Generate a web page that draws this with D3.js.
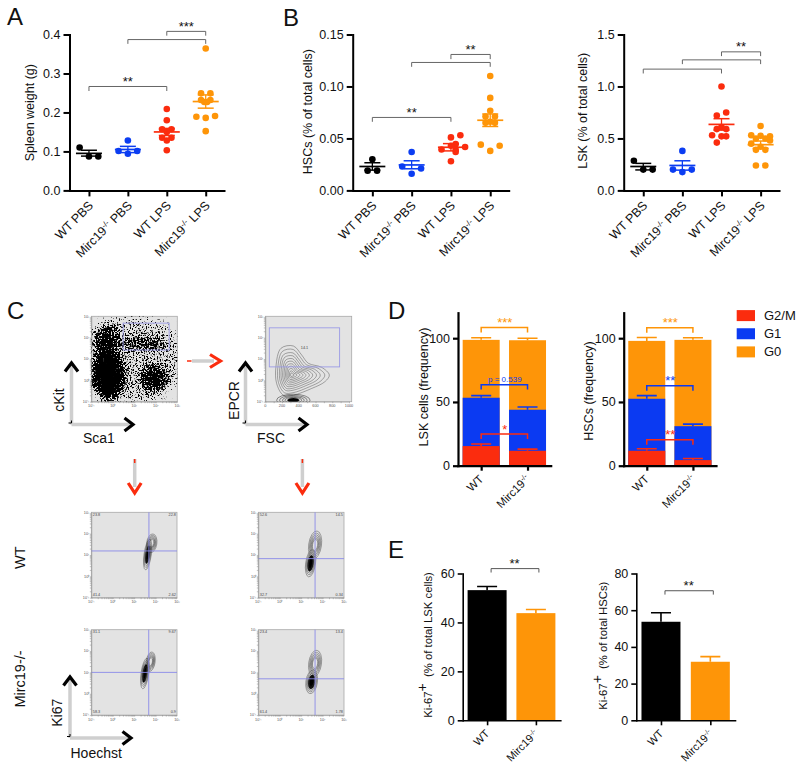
<!DOCTYPE html>
<html><head><meta charset="utf-8">
<script src="https://cdnjs.cloudflare.com/ajax/libs/d3/7.8.5/d3.min.js"></script>
<style>html,body{margin:0;padding:0;background:#fff}svg{display:block}text{font-family:"Liberation Sans",Arial,sans-serif;fill:#111}</style>
</head><body><svg id="c" width="800" height="771"></svg>
<script>
// ---------- data ----------
const groups = [["WT PBS",""],["Mirc19","PBS"],["WT LPS",""],["Mirc19","LPS"]];
const groupColors = ["#000000","#0b3df2","#fb2c0e","#fe9508"];
const stackColors = {g2m:"#fb2c0e", g1:"#0b3af2", g0:"#fe9508"};
const spleenValues = [[.11,.087,.087],[.128,.101,.094,.101],[.209,.18,.157,.157,.15,.135,.135,.128,.103],[.364,.249,.249,.232,.232,.227,.227,.189,.186,.191,.152]];
const spleenSlots  = [[-1,0,1],[0,-1,0,1],[0,0,-.5,.5,0,-.5,.5,0,0],[0,-.5,.5,-.5,.5,-.15,.15,-1,0,1,0]];
const spleenMean = [.095,.105,.15,.228], spleenHi = [.103,.113,.159,.245], spleenLo = [.088,.097,.141,.211];
const hscValues = [[.03,.019,.019],[.037,.023,.021,.016],[.053,.051,.0445,.043,.0417,.0394,.039,.037,.028],[.11,.089,.0766,.071,.071,.066,.065,.065,.044,.038,.043]];
const hscSlots  = [[0,-.5,.5],[0,-1,1,0],[1,0,.5,0,1.5,-1,.5,.5,0],[0,0,0,-.5,.5,0,-.5,.5,-1,0,1]];
const hscMean = [.023,.0245,.0415,.0675], hscHi = [.0266,.0285,.045,.0735], hscLo = [.0195,.0208,.038,.0615];
const lskValues = [[.285,.2,.2],[.38,.2,.2,.176],[1,.75,.72,.61,.59,.59,.53,.52,.52,.46],[.62,.53,.525,.52,.5,.5,.48,.45,.42,.39,.39,.24,.24]];
const lskSlots  = [[-1,0,1],[0,-1,1,0],[0,.5,-.5,0,-.5,.5,-1,0,.5,-.5],[0,-1,0,1,-.5,.5,1,-1,0,-.5,.5,-.5,.5]];
const lskMean = [.23,.24,.635,.44], lskHi = [.26,.285,.69,.475], lskLo = [.197,.195,.58,.405];
const spleenBrackets = [[0,2,.2666,.255,"**"],[1,3,.387,.376,""],[2,3,.408,.397,"***"]];
const hscBrackets = [[0,2,.0702,.066,"**"],[1,3,.1231,.1189,""],[2,3,.1308,.1263,"**"]];
const lskBrackets = [[0,2,1.167,1.125,""],[1,3,1.256,1.215,""],[2,3,1.333,1.292,"**"]];
const stackGenotypes = [["WT",""],["Mirc19",""]];
const lskG2M=[15.4,11.7], lskG1=[53.3,43.9], lskG0=[98.7,98.4];
const lskG2MErr=[17,13], lskG1Err=[55,46], lskG0Err=[100.3,100];
const hsG2M=[11.7,4.4], hsG1=[52.5,31], hsG0=[97.9,98.7];
const hsG2MErr=[13.3,5.7], hsG1Err=[55,32.6], hsG0Err=[100.5,100.3];
const lskStackBrackets=[[108.4,104.4,"***","#fe9508"],[63.4,59.8,"p = 0.539","#0b3af2"],[24.8,20.9,"*","#fb2c0e"]];
const hsStackBrackets=[[108.1,104.2,"***","#fe9508"],[62.7,58.7,"**","#0b3af2"],[20.4,16.4,"**","#fb2c0e"]];
const legendLabels=["G2/M","G1","G0"];
const ki67Lsk=[53.2,43.8], ki67LskErr=[54.7,45.3];
const ki67Hsc=[53.7,31.9], ki67HscErr=[58.6,34.7];
const barColors=["#000000","#fe9508"];
// flow: [log x, log y, rx, ry, density]
const sca1Clusters=[[.95,.95,2.4,2.1,.24],[1,1,2.2,1.9,.12],[-.25,1.2,.55,.7,.45],[-.29,1.97,.6,.7,.62],[1.42,1.73,1.05,.24,.72],[1.91,.09,.6,.6,.85],[-.21,.25,.75,1.2,.98],[-.2,.2,.5,.8,.95]];
const sca1Gate=[[.48,2.68],[2.62,1.42]], epcrGate=[[48,2.46],[888,.63]];
const epcrOutline=[[187,1.5],[335,1.61],[434,1.19],[514,.8],[673,.61],[765,.25],[713,-.06],[554,-.38],[335,-.69],[215,-.69],[135,-.14],[127,.64]];
const epcrCentre=[315,.25];
const contourLevels=[1,.88,.76,.66,.56,.47,.38,.3,.22,.14,.07];
const ki67Plots=[
 {vx:1.69,hy:1.19,q:["23.8","22.8","41.4","2.62"],lobes:[[1.82,1.55,.24,.44],[1.63,1.02,.17,.72]]},
 {vx:1.65,hy:.83,q:["52.6","14.5","32.7","0.34"],lobes:[[1.65,1.47,.3,.66],[1.44,.61,.23,.64]]},
 {vx:1.68,hy:1.0,q:["31.1","9.67","58.3","0.9"],lobes:[[1.77,1.5,.21,.46],[1.5,.95,.18,.72]]},
 {vx:1.65,hy:.7,q:["23.4","13.4","61.4","1.78"],lobes:[[1.65,1.42,.3,.62],[1.49,.56,.27,.56]]}];
const ringLevels=[1,.85,.72,.6,.5,.4];
const logTicks=[-1,0,1,2,3];
const supDigits={"-1":"⁻¹",0:"⁰",1:"¹",2:"²",3:"³"};

// ---------- helpers ----------
const svg=d3.select("#c");
const defs=svg.append("defs");
const F="Liberation Sans";
function txt(p,x,y,s,size,o={}){const t=p.append("text").attr("x",x).attr("y",y).attr("font-size",size).text(s);
 if(o.anchor)t.attr("text-anchor",o.anchor); if(o.fill)t.style("fill",o.fill); if(o.weight)t.attr("font-weight",o.weight); return t;}
function vtxt(p,x,y,size){return p.append("text").attr("transform",`translate(${x},${y}) rotate(-90)`).attr("text-anchor","middle").attr("font-size",size);}
function supLabel(t,base,rest,size){t.append("tspan").text(base);
 t.append("tspan").attr("dy",-size*.35).attr("font-size",size*.62).text("-/-");
 t.append("tspan").attr("dy",size*.35).text(rest?" "+rest:"");}
function xLabels(g,x,y0,labels,size,dx,dy){labels.forEach((l,i)=>{
 const t=g.append("text").attr("text-anchor","end").attr("font-size",size)
  .attr("transform",`translate(${x(i)+dx},${y0+dy}) rotate(-45)`);
 if(l[0]==="Mirc19")supLabel(t,l[0],l[1],size); else t.text(l[0]);});}
function axes(g,x,y,n,ticks,fmt,size,tl,sw){
 const h=y.range()[0];
 const ax=g.append("g").attr("transform",`translate(${x.range()[0]},0)`).call(d3.axisLeft(y).tickValues(ticks).tickFormat(fmt).tickSize(tl).tickSizeOuter(0));
 const bx=g.append("g").attr("transform",`translate(0,${h})`).call(d3.axisBottom(x).tickValues(d3.range(n)).tickFormat("").tickSize(tl).tickSizeOuter(0));
 [ax,bx].forEach(a=>{a.selectAll("path,line").attr("stroke","#000").attr("stroke-width",sw);a.selectAll("text").attr("font-size",size).attr("font-family",F);});
 ax.selectAll("path").attr("stroke-linecap","square");bx.selectAll("path").attr("stroke-linecap","square");
}
function scatter(o){
 const g=svg.append("g");
 const x=d3.scaleLinear().domain([-.5,3.47]).range([o.x0,o.x1]);
 const y=d3.scaleLinear().domain(o.dom).range([190.4,34.5]);
 const slotW=.24;
 o.values.forEach((vs,i)=>{
  g.append("g").selectAll("circle").data(vs).join("circle").attr("r",3.3).attr("fill",groupColors[i])
   .attr("cx",(d,k)=>x(i+o.slots[i][k]*slotW)).attr("cy",d=>y(d));
  const c=groupColors[i], cx=x(i);
  const ln=(a,b,cc,dd,sw)=>g.append("line").attr("x1",a).attr("x2",b).attr("y1",cc).attr("y2",dd).attr("stroke",c).attr("stroke-width",sw);
  ln(cx-13,cx+13,y(o.mean[i]),y(o.mean[i]),1.7);
  ln(cx,cx,y(o.hi[i]),y(o.lo[i]),1.3);
  ln(cx-8,cx+8,y(o.hi[i]),y(o.hi[i]),1.5);
  ln(cx-8,cx+8,y(o.lo[i]),y(o.lo[i]),1.5);
 });
 axes(g,x,y,4,o.ticks,d3.format(o.fmt),12.5,6,2);
 o.brackets.forEach(b=>{
  g.append("path").attr("fill","none").attr("stroke","#666").attr("stroke-width",1)
   .attr("d",d3.line()([[x(b[0]),y(b[3])],[x(b[0]),y(b[2])],[x(b[1]),y(b[2])],[x(b[1]),y(b[3])]]));
  if(b[4])txt(g,(x(b[0])+x(b[1]))/2,y(b[2])-.5,b[4],13,{anchor:"middle"});
 });
 xLabels(g,x,190.4,groups,12.5,5,16);
 vtxt(g,o.lx,o.ly,12.5).text(o.label);
}
function stack(o){
 const g=svg.append("g");
 const x=d3.scaleLinear().domain([-.5,1.5]).range([o.x0,o.x1]);
 const y=d3.scaleLinear().domain([0,120]).range([465.7,312.7]);
 const hw=18.5;
 [[o.g0,o.g0e,"g0"],[o.g1,o.g1e,"g1"],[o.g2,o.g2e,"g2m"]].forEach(s=>{
  const c=stackColors[s[2]];
  g.append("g").selectAll("rect").data(s[0]).join("rect").attr("x",(d,i)=>x(i)-hw).attr("width",hw*2)
   .attr("y",d=>y(d)).attr("height",d=>y(0)-y(d)).attr("fill",c);
  s[1].forEach((e,i)=>{
   g.append("path").attr("fill","none").attr("stroke",c).attr("stroke-width",1.6)
    .attr("d",d3.line()([[x(i),y(s[0][i])],[x(i),y(e)]])+d3.line()([[x(i)-10,y(e)],[x(i)+10,y(e)]]));
  });
 });
 axes(g,x,y,2,[0,50,100],d3.format("d"),12.5,5,2.2);
 o.brackets.forEach(b=>{
  g.append("path").attr("fill","none").attr("stroke",b[3]).attr("stroke-width",1.5)
   .attr("d",d3.line()([[x(0),y(b[1])],[x(0),y(b[0])],[x(1),y(b[0])],[x(1),y(b[1])]]));
  txt(g,(x(0)+x(1))/2+.5,y(b[0])-(b[2][0]==="p"?3:.5),b[2],b[2][0]==="p"?8:13,{anchor:"middle",fill:b[3]});
 });
 xLabels(g,x,465.7,stackGenotypes,11.5,3,14);
 vtxt(g,o.lx,o.ly,12.5).text(o.label);
}
function bars(o){
 const g=svg.append("g");
 const x=d3.scaleLinear().domain([-.5,1.5]).range([o.x0,o.x1]);
 const y=d3.scaleLinear().domain(o.dom).range([720.3,573.5]);
 const hw=19.5;
 g.append("g").selectAll("rect").data(o.v).join("rect").attr("x",(d,i)=>x(i)-hw).attr("width",hw*2)
  .attr("y",d=>y(d)).attr("height",d=>y(0)-y(d)).attr("fill",(d,i)=>barColors[i]);
 o.e.forEach((e,i)=>g.append("path").attr("fill","none").attr("stroke",barColors[i]).attr("stroke-width",1.6)
   .attr("d",d3.line()([[x(i),y(o.v[i])],[x(i),y(e)]])+d3.line()([[x(i)-10,y(e)],[x(i)+10,y(e)]])));
 axes(g,x,y,2,o.ticks,d3.format("d"),12.5,5,1.6);
 g.append("path").attr("fill","none").attr("stroke","#444").attr("stroke-width",.9)
  .attr("d",d3.line()([[x(0)+4,y(o.br[1])],[x(0)+4,y(o.br[0])],[x(1)+3,y(o.br[0])],[x(1)+3,y(o.br[1])]]));
 txt(g,(x(0)+x(1))/2+3,y(o.br[0])-.5,"**",13,{anchor:"middle"});
 xLabels(g,x,720.3,stackGenotypes,11,3,14);
 const t=vtxt(g,o.lx,o.ly,11.3);
 t.append("tspan").text("Ki-67");
 t.append("tspan").attr("dy",-5).attr("font-size",14).text("+");
 t.append("tspan").attr("dy",5).attr("xml:space","preserve").text("  (% of total "+o.cell+")");
}
function flowAxes(g,xs,ys,isLinear){
 const b=ys.range()[0], l=xs.range()[0];
 const xa=g.append("g").attr("transform",`translate(0,${b})`);
 const ya=g.append("g").attr("transform",`translate(${l},0)`);
 const minor=(s)=>{const [a,c]=s.domain();const out=[];d3.range(a,c).forEach(e=>d3.range(1,10).forEach(k=>out.push(e+Math.log10(k))));return out;};
 const xT=isLinear?d3.range(0,1001,100):minor(xs);
 xa.call(d3.axisBottom(xs).tickValues(xT).tickFormat("").tickSize(1.5).tickSizeOuter(0));
 ya.call(d3.axisLeft(ys).tickValues(minor(ys)).tickFormat("").tickSize(1.5).tickSizeOuter(0));
 [xa,ya].forEach(a=>{a.selectAll("path,line").attr("stroke","#888").attr("stroke-width",.5);});
 (isLinear?[0,200,400,600,800,1000]:logTicks).forEach(v=>{
  txt(g,xs(v),b+5.5,isLinear?String(v):"10"+supDigits[v],3.8,{anchor:"middle",fill:"#555"});});
 logTicks.forEach(v=>txt(g,l-2,ys(v)+1.3,"10"+supDigits[v],3.8,{anchor:"end",fill:"#555"}));
}
function clipFor(id,x,y,w,h){defs.append("clipPath").attr("id",id).append("rect").attr("x",x).attr("y",y).attr("width",w).attr("height",h);}
function axisArrow(g,x,yTop,yBot,xRight,yH){
 g.append("line").attr("x1",x).attr("x2",x).attr("y1",yBot).attr("y2",yTop+4).attr("stroke","#cfcfcf").attr("stroke-width",3.5);
 g.append("line").attr("x1",x).attr("x2",xRight-4).attr("y1",yH).attr("y2",yH).attr("stroke","#cfcfcf").attr("stroke-width",3.5);
 g.append("path").attr("fill","none").attr("stroke","#000").attr("stroke-width",3.2)
  .attr("d",`M${x-6.5},${yTop+11}L${x},${yTop+2.5}L${x+6.5},${yTop+11}`);
 g.append("path").attr("fill","none").attr("stroke","#000").attr("stroke-width",3.2)
  .attr("d",`M${xRight-11},${yH-6.5}L${xRight-2.5},${yH}L${xRight-11},${yH+6.5}`);
 g.append("path").attr("fill","none").attr("stroke","#000").attr("stroke-width",1)
  .attr("d",`M${x-3},${yH-1.5}L${x},${yH-1.5}L${x},${yH-4}`);
}
function redArrowDown(g,x,y0,y1){
 g.append("line").attr("x1",x).attr("x2",x).attr("y1",y0).attr("y2",y1-8).attr("stroke","#cfcfcf").attr("stroke-width",3.5);
 g.append("line").attr("x1",x).attr("x2",x).attr("y1",y0).attr("y2",y0+4).attr("stroke","#fb2c0e").attr("stroke-width",1.5);
 g.append("path").attr("fill","none").attr("stroke","#fb2c0e").attr("stroke-width",3.2)
  .attr("d",`M${x-6.5},${y1-12}L${x},${y1-2}L${x+6.5},${y1-12}`);
}

// ---------- A / B ----------
scatter({x0:69.5,x1:224,dom:[0,.4],ticks:[0,.1,.2,.3,.4],fmt:".1f",values:spleenValues,slots:spleenSlots,mean:spleenMean,hi:spleenHi,lo:spleenLo,brackets:spleenBrackets,label:"Spleen weight (g)",lx:34,ly:112.7});
scatter({x0:352.7,x1:508.7,dom:[0,.15],ticks:[0,.05,.1,.15],fmt:".2f",values:hscValues,slots:hscSlots,mean:hscMean,hi:hscHi,lo:hscLo,brackets:hscBrackets,label:"HSCs (% of total cells)",lx:311.7,ly:111.7});
scatter({x0:623.7,x1:779,dom:[0,1.5],ticks:[0,.5,1,1.5],fmt:".1f",values:lskValues,slots:lskSlots,mean:lskMean,hi:lskHi,lo:lskLo,brackets:lskBrackets,label:"LSK (% of total cells)",lx:587.3,ly:110.8});

// ---------- D ----------
stack({x0:458,x1:550.7,g2:lskG2M,g1:lskG1,g0:lskG0,g2e:lskG2MErr,g1e:lskG1Err,g0e:lskG0Err,brackets:lskStackBrackets,label:"LSK cells (frequency)",lx:427.7,ly:387});
stack({x0:623.7,x1:716,g2:hsG2M,g1:hsG1,g0:hsG0,g2e:hsG2MErr,g1e:hsG1Err,g0e:hsG0Err,brackets:hsStackBrackets,label:"HSCs (frequency)",lx:592.7,ly:391});
const lg=svg.append("g");
const lgY=d3.scalePoint().domain(legendLabels).range([315.6,351.9]);
const lgC=d3.scaleOrdinal().domain(legendLabels).range([stackColors.g2m,stackColors.g1,stackColors.g0]);
legendLabels.forEach(l=>{
 lg.append("rect").attr("x",736.7).attr("y",lgY(l)-5.5).attr("width",18.3).attr("height",11).attr("fill",lgC(l));
 txt(lg,764,lgY(l)+4.5,l,13);
});

// ---------- E ----------
bars({x0:462.7,x1:560.3,dom:[0,60],ticks:[0,20,40,60],v:ki67Lsk,e:ki67LskErr,br:[62,60.4],cell:"LSK cells",lx:431.7,ly:645});
bars({x0:636.3,x1:735,dom:[0,80],ticks:[0,20,40,60,80],v:ki67Hsc,e:ki67HscErr,br:[70.6,68.5],cell:"HSCs",lx:607,ly:645.7});

// ---------- C ----------
const cg=svg.append("g");
// speckle filter: density map thresholded against a noise texture
const fl=defs.append("filter").attr("id","speckle").attr("filterUnits","userSpaceOnUse")
 .attr("x",85).attr("y",310).attr("width",100).attr("height",100).attr("color-interpolation-filters","sRGB");
fl.append("feGaussianBlur").attr("in","SourceAlpha").attr("stdDeviation",4).attr("result","d");
fl.append("feTurbulence").attr("type","fractalNoise").attr("baseFrequency",.63).attr("numOctaves",3).attr("seed",4).attr("result","t");
fl.append("feColorMatrix").attr("in","t").attr("type","matrix").attr("values","0 0 0 0 0 0 0 0 0 0 0 0 0 0 0 2.2 0 0 0 -.6").attr("result","n");
fl.append("feComposite").attr("in","d").attr("in2","n").attr("operator","arithmetic").attr("k1",0).attr("k2",1.2).attr("k3",1).attr("k4",-1).attr("result","m");
const ct=fl.append("feComponentTransfer").attr("in","m");ct.append("feFuncA").attr("type","linear").attr("slope",5).attr("intercept",0);

// plot 1
{const xs=d3.scaleLinear().domain([-1,3]).range([91.3,177.3]), ys=d3.scaleLinear().domain([-1,3]).range([401.7,316.3]);
 cg.append("rect").attr("x",91.3).attr("y",316.3).attr("width",86).attr("height",85.4).attr("fill","#e3e3e3").attr("stroke","#a8a8a8").attr("stroke-width",.8);
 clipFor("cp1",91.3,316.3,86,85.4);
 const cl=cg.append("g").attr("clip-path","url(#cp1)").append("g").attr("filter","url(#speckle)");
 cl.selectAll("ellipse").data(sca1Clusters).join("ellipse")
  .attr("cx",d=>xs(d[0])).attr("cy",d=>ys(d[1])).attr("rx",d=>xs(d[2])-xs(0)).attr("ry",d=>ys(0)-ys(d[3])).attr("fill","#000").attr("fill-opacity",d=>d[4]);
 flowAxes(cg,xs,ys,false);
 cg.append("rect").attr("x",xs(sca1Gate[0][0])).attr("y",ys(sca1Gate[0][1])).attr("width",xs(sca1Gate[1][0])-xs(sca1Gate[0][0])).attr("height",ys(sca1Gate[1][1])-ys(sca1Gate[0][1])).attr("fill","none").attr("stroke","#9a9ae6").attr("stroke-width",.9);
}
// plot 2
{const xs=d3.scaleLinear().domain([0,1000]).range([265.3,349]), ys=d3.scaleLinear().domain([-1,3]).range([401.7,316.3]);
 cg.append("rect").attr("x",265.3).attr("y",316.3).attr("width",86.4).attr("height",85.4).attr("fill","#e3e3e3").attr("stroke","#a8a8a8").attr("stroke-width",.8);
 clipFor("cp2",265.3,316.3,86.4,85.4);
 const p=cg.append("g").attr("clip-path","url(#cp2)");
 const ln=d3.line().curve(d3.curveCatmullRomClosed.alpha(.5));
 p.selectAll("path.r").data(contourLevels).join("path").attr("fill","none").attr("stroke","#333").attr("stroke-width",.4)
  .attr("d",l=>ln(epcrOutline.map(q=>[xs(epcrCentre[0]+(q[0]-epcrCentre[0])*l),ys(epcrCentre[1]+(q[1]-epcrCentre[1])*l)])));
 [[200,.28],[165,.22],[130,.17],[100,.13],[70,.1]].forEach((r,i)=>
  p.append("ellipse").attr("cx",xs(335)).attr("cy",ys(-.93)).attr("rx",xs(r[0])-xs(0)).attr("ry",ys(0)-ys(r[1])).attr("fill",i==4?"#000":"none").attr("stroke","#222").attr("stroke-width",.5));
 flowAxes(cg,xs,ys,true);
 cg.append("rect").attr("x",xs(epcrGate[0][0])).attr("y",ys(epcrGate[0][1])).attr("width",xs(epcrGate[1][0])-xs(epcrGate[0][0])).attr("height",ys(epcrGate[1][1])-ys(epcrGate[0][1])).attr("fill","none").attr("stroke","#9a9ae6").attr("stroke-width",.9);
 txt(cg,304.5,349,"14.1",3.8,{anchor:"middle",fill:"#444"});
}
// Ki67 plots
[[91.3,512.3],[258.3,512.3],[91.3,629.7],[258.3,629.7]].forEach((pos,i)=>{
 const d=ki67Plots[i], w=85.7, h=85.4;
 const xs=d3.scaleLinear().domain([-1,3]).range([pos[0],pos[0]+w]), ys=d3.scaleLinear().domain([-1,3]).range([pos[1]+h,pos[1]]);
 cg.append("rect").attr("x",pos[0]).attr("y",pos[1]).attr("width",w).attr("height",h).attr("fill","#e3e3e3").attr("stroke","#a8a8a8").attr("stroke-width",.8);
 d.lobes.forEach((lb,k)=>{
  const rx=xs(lb[2])-xs(0), ry=ys(0)-ys(lb[3]);
  const e=cg.append("g").attr("transform",`translate(${xs(lb[0])},${ys(lb[1])}) rotate(8)`);
  e.selectAll("ellipse").data(ringLevels).join("ellipse").attr("rx",l=>rx*l).attr("ry",l=>ry*l)
   .attr("fill",(l,j)=>(k==1&&j==3)?"#000":"none").attr("stroke","#333").attr("stroke-width",.4);
 });
 cg.append("line").attr("x1",xs(d.vx)).attr("x2",xs(d.vx)).attr("y1",ys(3)).attr("y2",ys(-1)).attr("stroke","#8a8ae8").attr("stroke-width",.9);
 cg.append("line").attr("x1",xs(-1)).attr("x2",xs(3)).attr("y1",ys(d.hy)).attr("y2",ys(d.hy)).attr("stroke","#8a8ae8").attr("stroke-width",.9);
 flowAxes(cg,xs,ys,false);
 txt(cg,xs(-.93),ys(2.85),d.q[0],3.8,{fill:"#444"});
 txt(cg,xs(2.95),ys(2.85),d.q[1],3.8,{anchor:"end",fill:"#444"});
 txt(cg,xs(-.93),ys(-.9),d.q[2],3.8,{fill:"#444"});
 txt(cg,xs(2.95),ys(-.9),d.q[3],3.8,{anchor:"end",fill:"#444"});
});
axisArrow(cg,71.5,360.5,424.5,135.5,424.5);
axisArrow(cg,245.5,360.5,424.5,309.5,424.5);
axisArrow(cg,70,674.5,738,133.5,738);
vtxt(cg,63.5,400,14).text("cKit");
txt(cg,83,443.3,"Sca1",14);
vtxt(cg,238.5,400.5,14).text("EPCR");
txt(cg,257,443.3,"FSC",14);
vtxt(cg,62.3,712.7,14).text("Ki67");
txt(cg,70.5,758,"Hoechst",14);
vtxt(cg,24.7,557.7,14.5).text("WT");
vtxt(cg,24.7,679,14.5).text("Mirc19-/-");
// red arrows
cg.append("line").attr("x1",192).attr("x2",214).attr("y1",361).attr("y2",361).attr("stroke","#cfcfcf").attr("stroke-width",3.5);
cg.append("line").attr("x1",187).attr("x2",191.5).attr("y1",361).attr("y2",361).attr("stroke","#fb2c0e").attr("stroke-width",1.5);
cg.append("path").attr("fill","none").attr("stroke","#fb2c0e").attr("stroke-width",3.2).attr("d","M210,354.5L220.5,361L210,367.5");
redArrowDown(cg,134.7,459,495);
redArrowDown(cg,302.4,459,495);

// panel letters
[["A",7,25],["B",283,25.7],["C",7,318.7],["D",388,319],["E",388,558]].forEach(l=>txt(svg,l[1],l[2],l[0],24));
</script></body></html>
